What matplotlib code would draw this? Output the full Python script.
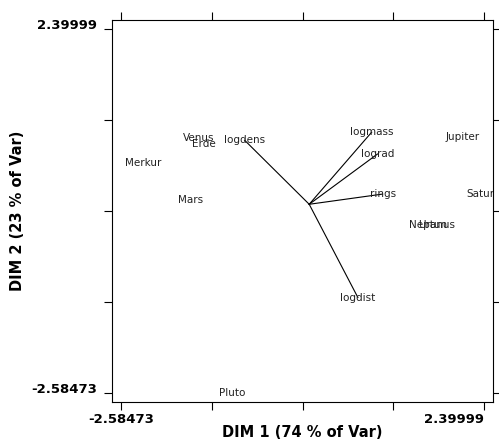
import matplotlib
matplotlib.use("Agg")
import matplotlib.pyplot as plt
from matplotlib.transforms import ScaledTranslation

# ---- data: planets (row scores) ----
planets = ["Merkur", "Venus", "Erde", "Mars", "Jupiter", "Saturn", "Uranus", "Neptun", "Pluto"]
dim1 = [-2.28, -1.52, -1.45, -1.63, 2.11, 2.39999, 1.75, 1.63, -1.06]
dim2 = [0.56, 0.91, 0.83, 0.06, 0.92, 0.14, -0.29, -0.28, -2.58473]

# ---- data: variables (column loadings) ----
variables = ["logdens", "logmass", "lograd", "rings", "logdist"]
var1 = [-0.89, 0.86, 0.94, 1.01, 0.67]
var2 = [0.88, 0.99, 0.69, 0.14, -1.28]

lo, hi = -2.58473, 2.39999
tick_labels = ["-2.58473", "", "", "", "2.39999"]

plt.rcParams['font.family'] = ['DejaVu Sans']

fig = plt.figure(figsize=(4.99, 4.40), dpi=100)
ax = fig.add_axes([112/499, 38/440, 381/499, 382/440])

# planets as text labels
for name, x, y in zip(planets, dim1, dim2):
    ax.text(x, y, name, ha='center', va='center', fontsize=7.5,
            color='#222222', clip_on=True)

# variable vectors from the origin
for name, x, y in zip(variables, var1, var2):
    ax.plot([0, x], [0, y], color='black', linewidth=0.8)
    ax.text(x, y, name, ha='center', va='center', fontsize=7.5,
            color='#222222', clip_on=True)

pad = 0.13
ax.set_xlim(lo - pad, hi + pad)
ax.set_ylim(lo - pad, hi + pad)

step = (hi - lo) / 4
ticks = [lo + step * k for k in range(5)]
ax.set_xticks(ticks)
ax.set_yticks(ticks)
ax.set_xticklabels(tick_labels, fontsize=9.5, fontweight='bold')
ax.set_yticklabels(tick_labels, fontsize=9.5, fontweight='bold')
for lbl in ax.get_yticklabels():
    lbl.set_va('baseline')
# last x label pulled in so it stays inside the figure
last = ax.get_xticklabels()[-1]
last.set_ha('right')
last.set_transform(last.get_transform() + ScaledTranslation(7/100, 0, fig.dpi_scale_trans))

ax.tick_params(direction='out', length=6, width=0.8, top=True, right=True,
               labeltop=False, labelright=False)
ax.tick_params(axis='x', pad=2)
ax.tick_params(axis='y', pad=5)
for sp in ax.spines.values():
    sp.set_linewidth(0.8)

ax.set_xlabel("DIM 1 (74 % of Var)", fontsize=10.5, fontweight='bold', labelpad=-1)
ax.set_ylabel("DIM 2 (23 % of Var)", fontsize=10.5, fontweight='bold', labelpad=4)

fig.savefig("out.png", dpi=100)
